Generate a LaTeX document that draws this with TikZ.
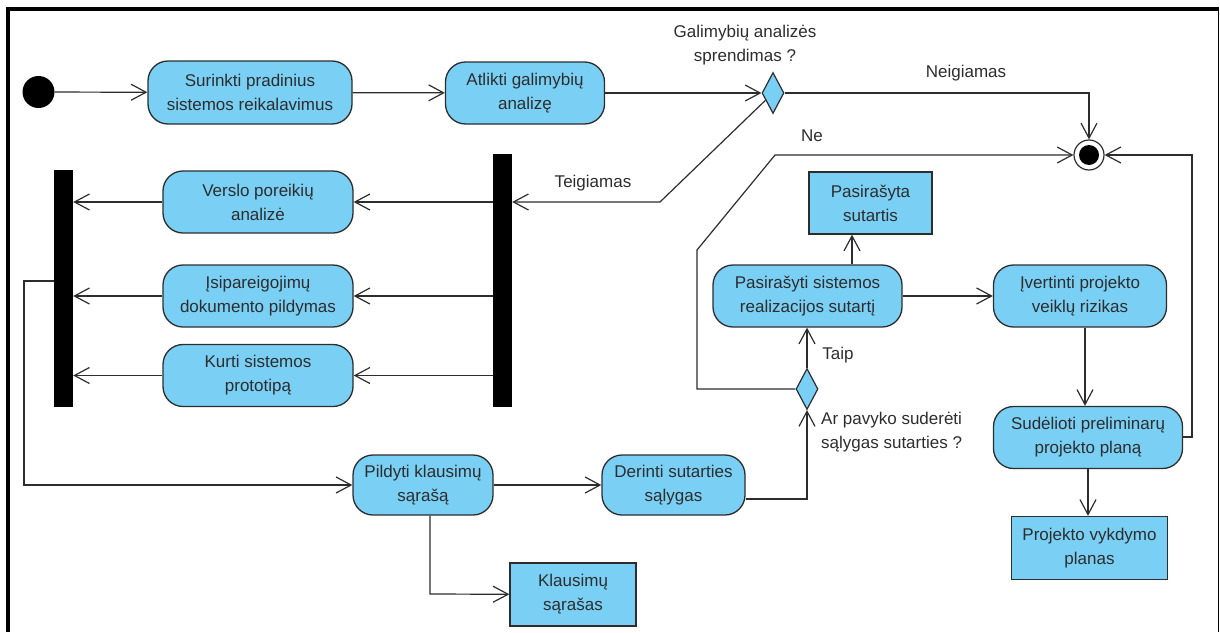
\documentclass[tikz,border=0pt]{standalone}
\usepackage{fontspec}
\setmainfont{Liberation Sans}
\usetikzlibrary{arrows.meta,shapes.geometric,calc}
\definecolor{actfill}{RGB}{122,207,245}
\definecolor{ink}{RGB}{45,45,45}

\begin{document}
\begin{tikzpicture}[x=1pt,y=-1pt,
  txt/.style={font=\fontsize{17}{24}\selectfont, text=ink},
  act/.style={txt, draw=ink, line width=1.3pt, fill=actfill, rounded corners=20pt,
    minimum height=62pt, align=center, inner sep=0pt},
  obj/.style={txt, draw=ink, line width=1.3pt, fill=actfill,
    minimum height=62pt, align=center, inner sep=0pt},
  bar/.style={fill=black, draw=none, minimum width=19pt, inner sep=0pt},
  dec/.style={diamond, draw=ink, fill=actfill, line width=1.2pt,
    minimum width=22pt, minimum height=41pt, inner sep=0pt},
  flow/.style={draw=ink, line width=1.2pt,
    -{Straight Barb[length=15pt,width=16pt]}},
  lbl/.style={txt, inner sep=0pt}
]
\useasboundingbox (0,0) rectangle (1220,632);

% frame
\fill[black] (6,7) rectangle (10,632);
\fill[black] (6,7) rectangle (1218,11);
\draw[black, line width=1.5pt] (1218.5,7) -- (1218.5,632);

% initial and final nodes
\node[circle, fill=black, minimum size=32pt, inner sep=0pt] (start) at (38.5,92) {};
\node[circle, draw=ink, fill=white, line width=1.2pt, minimum size=30pt, inner sep=0pt] (fin) at (1089,155) {};
\fill[black] (fin) circle (10pt);

% actions, top row
\node[act, minimum width=204pt, minimum height=63pt] (n1) at (250,92.5) {Surinkti pradinius\\sistemos reikalavimus};
\node[act, minimum width=159pt] (n2) at (525,93) {Atlikti galimybių\\analizę};
\node[dec] (d1) at (773,93) {};

% fork / join bars
\node[bar, minimum height=237pt] (barL) at (63.5,288.5) {};
\node[bar, minimum height=253pt] (barR) at (502.5,280.5) {};

% parallel actions
\node[act, minimum width=190pt] (v1) at (258,202) {Verslo poreikių\\analizė};
\node[act, minimum width=190pt] (v2) at (258,296) {Įsipareigojimų\\dokumento pildymas};
\node[act, minimum width=190pt] (v3) at (258,375.5) {Kurti sistemos\\prototipą};

% bottom row
\node[act, minimum width=140pt, minimum height=60pt] (p1) at (423,485) {Pildyti klausimų\\sąrašą};
\node[act, minimum width=143pt, minimum height=60pt] (p2) at (673.5,485) {Derinti sutarties\\sąlygas};
\node[obj, minimum width=126pt, minimum height=63pt] (k1) at (573,594.5) {Klausimų\\sąrašas};

% contract branch
\node[dec] (d2) at (807,389) {};
\node[act, minimum width=189pt] (s1) at (807.5,296) {Pasirašyti sistemos\\realizacijos sutartį};
\node[obj, minimum width=123pt] (s2) at (870.5,203) {Pasirašyta\\sutartis};
\node[act, minimum width=173pt] (r1) at (1080,296) {Įvertinti projekto\\veiklų rizikas};
\node[act, minimum width=189pt, minimum height=62pt] (r2) at (1088,437.5) {Sudėlioti preliminarų\\projekto planą};
\node[obj, minimum width=156pt, minimum height=63pt] (r3) at (1089.5,548) {Projekto vykdymo\\planas};

% labels
\node[lbl, align=center] (lq) at (745,45) {Galimybių analizės\\sprendimas ?};
\node[lbl] (lneg) at (966,73) {Neigiamas};
\node[lbl] (lne) at (812,136) {Ne};
\node[lbl] (lteig) at (593,183) {Teigiamas};
\node[lbl] (ltaip) at (838,355) {Taip};
\node[lbl, align=left, anchor=west] (lq2) at (821,432) {Ar pavyko suderėti\\sąlygas sutarties ?};

% helper points
\coordinate (tg) at (660,202);
\coordinate (lp) at (24,281);
\coordinate (dd) at (807,499);
\coordinate (nb1) at (697,389);
\coordinate (nb2) at (697,250);
\coordinate (nb3) at (775,155);
\coordinate (sx) at (852,0);
\coordinate (rx) at (1085,0);
\coordinate (px) at (1088,0);
\coordinate (rl) at (1192,437);
\coordinate (kx) at (430,594);

% connectors
\draw[flow] (start) -- (n1);
\draw[flow] (n1) -- (n2);
\draw[flow] (n2) -- (d1);
\draw[flow] (d1) -| (fin);
\draw[flow] (d1) -- (tg) -- (barR.east |- tg);
\draw[flow] (barR.west |- v1) -- (v1);
\draw[flow] (barR.west |- v2) -- (v2);
\draw[flow] (barR.west |- v3) -- (v3);
\draw[flow] (v1) -- (barL.east |- v1);
\draw[flow] (v2) -- (barL.east |- v2);
\draw[flow] (v3) -- (barL.east |- v3);
\draw[flow] (barL.west |- lp) -- (lp) |- (p1);
\draw[flow] (p1) -- (p2);
\draw[flow] (p1.south -| kx) -- (kx) -- (k1);
\draw[flow] (p2.east |- dd) -- (dd) -- (d2);
\draw[flow] (d2) -- (d2 |- s1.south);
\draw[flow] (d2) -- (nb1) -- (nb2) -- (nb3) -- (fin);
\draw[flow] (s1.north -| sx) -- (s2.south -| sx);
\draw[flow] (s1) -- (r1);
\draw[flow] (r1.south -| rx) -- (r2.north -| rx);
\draw[flow] (r2.south -| px) -- (r3.north -| px);
\draw[flow] (r2.east |- rl) -- (rl) |- (fin);
\end{tikzpicture}
\end{document}
